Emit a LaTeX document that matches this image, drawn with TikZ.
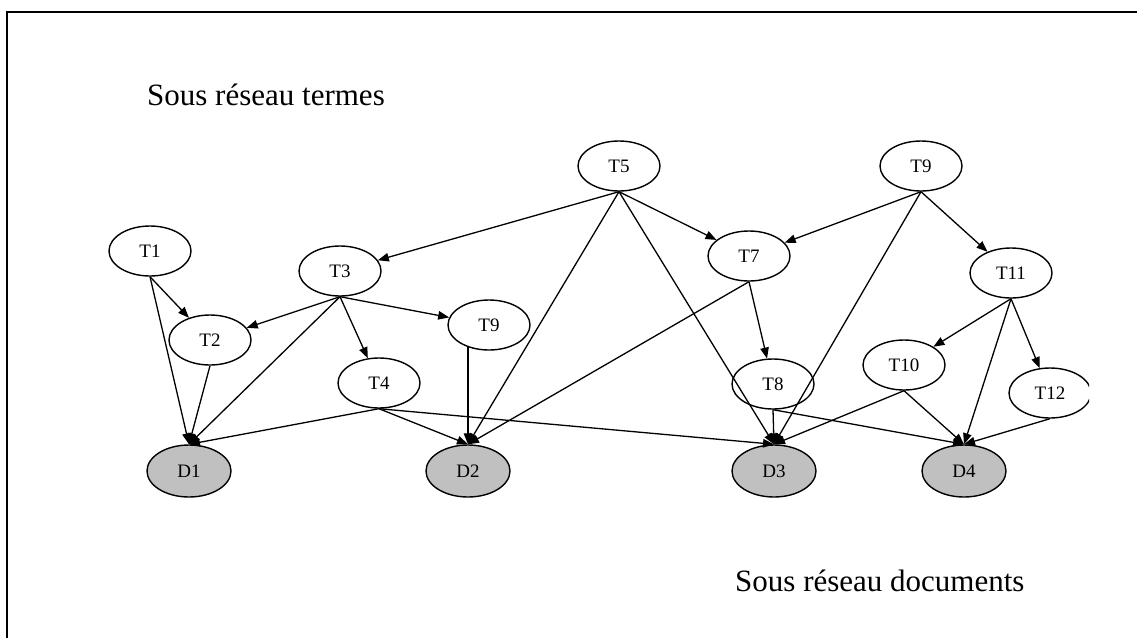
\documentclass[tikz,border=0pt]{standalone}
\usepackage{fontspec}
\setmainfont{Liberation Serif}
\usetikzlibrary{shapes.geometric,arrows.meta}
\definecolor{docfill}{RGB}{192,192,192}
\begin{document}
\begin{tikzpicture}[x=1pt,y=-1pt,
  term/.style={ellipse,draw,line width=1.4pt,minimum width=82pt,minimum height=50pt,
    inner sep=0pt,font=\fontsize{19}{19}\selectfont},
  doc/.style={term,fill=docfill,minimum width=84pt,minimum height=52pt},
  link/.style={line width=1.3pt,-{Triangle[length=11pt,width=8.5pt]}},
  caption/.style={font=\fontsize{31}{31}\selectfont,anchor=base west,inner sep=0pt}]
\useasboundingbox (0,0) rectangle (1137,638);
% frame
\draw[line width=2pt] (6.5,638) -- (6.5,12) -- (1137,12);

% captions
\node[caption] (capT) at (147,105) {Sous réseau termes};
\node[caption] (capD) at (735,591) {Sous réseau documents};

% term sub-network
\node[term] (T5)  at (619,166) {T5};
\node[term] (T9a) at (921,166) {T9};
\node[term] (T1)  at (150,251) {T1};
\node[term] (T3)  at (340,271) {T3};
\node[term] (T7)  at (749,256) {T7};
\node[term] (T11) at (1011,273) {T11};
\node[term] (T2)  at (210,340) {T2};
\node[term] (T9b) at (489,325) {T9};
\node[term] (T4)  at (379,383) {T4};
\node[term] (T8)  at (773,384) {T8};
\node[term] (T10) at (904,365) {T10};
\begin{scope}
  \clip (0,0) rectangle (1089,638);
  \node[term] (T12) at (1050,393) {T12};
\end{scope}

% document sub-network
\node[doc] (D1) at (189,471) {D1};
\node[doc] (D2) at (468,471) {D2};
\node[doc] (D3) at (774,471) {D3};
\node[doc] (D4) at (964,471) {D4};

% term-to-term links
\draw[link] (T5.south) -- (T3);
\draw[link] (T5.south) -- (T7);
\draw[link] (T9a.south) -- (T7);
\draw[link] (T9a.south) -- (T11);
\draw[link] (T1.south) -- (T2);
\draw[link] (T3.south) -- (T2);
\draw[link] (T3.south) -- (T9b);
\draw[link] (T3.south) -- (T4);
\draw[link] (T7.south) -- (T8);
\draw[link] (T11.south) -- (T10);
\draw[link] (T11.south) -- (T12);

% term-to-document links, all meeting at the top of each document
\draw[link] (T1.south) -- (D1.north);
\draw[link] (T3.south) -- (D1.north);
\draw[link] (T2.south) -- (D1.north);
\draw[link] (T4.south) -- (D1.north);
\draw[link] ([yshift=4pt]T9b.south -| D2.north) -- (D2.north);
\draw[link] (T4.south) -- (D2.north);
\draw[link] (T5.south) -- (D2.north);
\draw[link] (T7.south) -- (D2.north);
\draw[link] (T4.south) -- (D3.north);
\draw[link] (T5.south) -- (D3.north);
\draw[link] (T9a.south) -- (D3.north);
\draw[link] (T8.south) -- (D3.north);
\draw[link] (T10.south) -- (D3.north);
\draw[link] (T8.south) -- (D4.north);
\draw[link] (T10.south) -- (D4.north);
\draw[link] (T11.south) -- (D4.north);
\draw[link] (T12.south) -- (D4.north);
\end{tikzpicture}
\end{document}
